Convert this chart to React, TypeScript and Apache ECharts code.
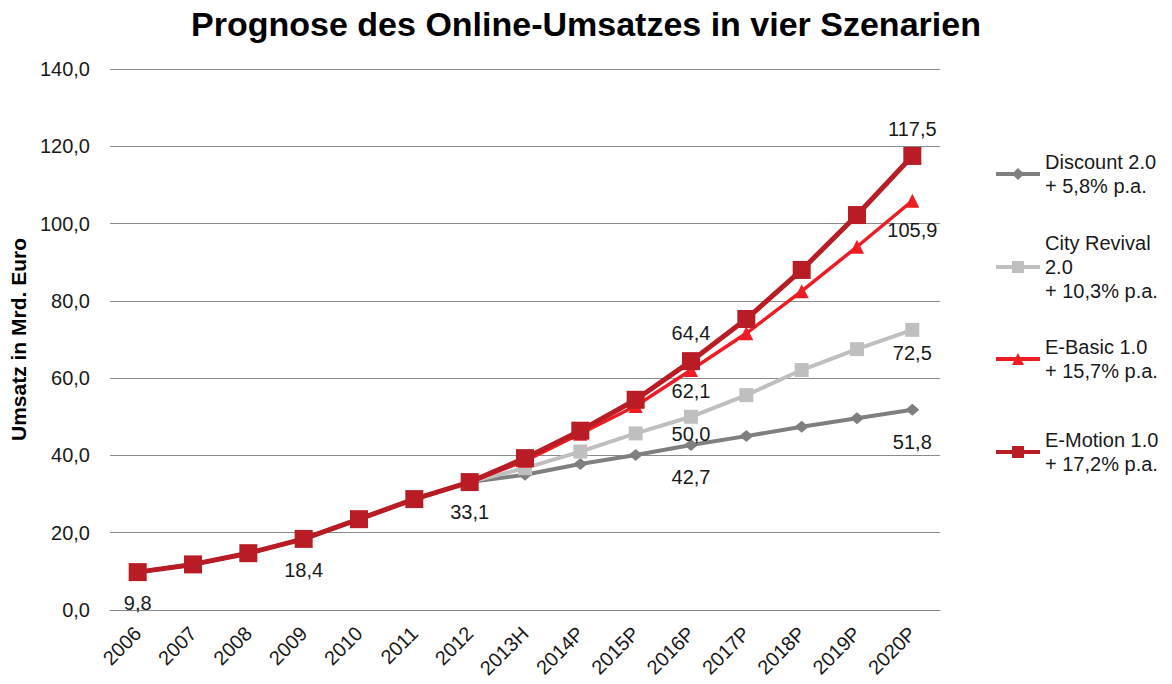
import React, { useEffect, useRef } from "react";
import * as echarts from "echarts";

const categories = ["2006", "2007", "2008", "2009", "2010", "2011", "2012", "2013H", "2014P", "2015P", "2016P", "2017P", "2018P", "2019P", "2020P"];
const yTicks = [0, 20, 40, 60, 80, 100, 120, 140];

const discount = [9.8, 11.8, 14.7, 18.4, 23.5, 28.7, 33.1, 35.0, 37.8, 40.1, 42.7, 45.0, 47.4, 49.6, 51.8];
const cityRevival = [9.8, 11.8, 14.7, 18.4, 23.5, 28.7, 33.1, 36.7, 41.0, 45.7, 50.0, 55.6, 62.1, 67.5, 72.5];
const eBasic = [9.8, 11.8, 14.7, 18.4, 23.5, 28.7, 33.1, 38.6, 45.6, 52.8, 62.1, 71.6, 82.5, 94.0, 105.9];
const eMotion = [9.8, 11.8, 14.7, 18.4, 23.5, 28.7, 33.1, 39.3, 46.4, 54.4, 64.4, 75.3, 88.0, 102.2, 117.5];

// data labels: category index -> vertical offset of label centre from the point
const discountLabels: Record<number, number> = { 10: 32, 14: 32 };
const cityLabels: Record<number, number> = { 10: 17, 14: 23 };
const eBasicLabels: Record<number, number> = { 10: 21, 14: 29 };
const eMotionLabels: Record<number, number> = { 0: 31, 3: 31, 6: 30, 10: -28, 14: -27 };

const names = [
  "Discount 2.0\n+ 5,8% p.a.",
  "City Revival\n2.0\n+ 10,3% p.a.",
  "E-Basic 1.0\n+ 15,7% p.a.",
  "E-Motion 1.0\n+ 17,2% p.a.",
];
const colors = ["#7f7f7f", "#bfbfbf", "#f01c24", "#b91c24"];
const legendCenters = [174, 267, 359, 452];

const fmt = (v: number) => v.toFixed(1).replace(".", ",");
const font = "Liberation Sans, Arial, sans-serif";

function buildData(values: number[], labels: Record<number, number>) {
  return values.map((v, i) =>
    labels[i] !== undefined
      ? {
          value: v,
          label: {
            show: true,
            position: "inside",
            offset: [0, labels[i]],
            formatter: () => fmt(v),
            color: "#1a1a1a",
            fontSize: 20,
            fontFamily: font,
          },
        }
      : v
  );
}

export default function App() {
  const ref = useRef<HTMLDivElement>(null);
  useEffect(() => {
    document.body.style.margin = "0";
    if (!ref.current) return;
    const chart = echarts.init(ref.current, undefined, { renderer: "svg" });
    const LH = 24;
    const legends = names.map((n, i) => {
      const lines = n.split("\n").length;
      const H = (2 * lines - 1) * LH;
      return {
        data: [n],
        orient: "vertical" as const,
        left: 994,
        top: legendCenters[i] - H / 2,
        padding: 0,
        itemWidth: 44,
        itemHeight: 15,
        itemGap: 0,
        selectedMode: false,
        lineStyle: { width: 4 },
        textStyle: {
          fontSize: 20,
          lineHeight: LH,
          color: "#1a1a1a",
          fontFamily: font,
          padding: [(lines - 1) * LH, 0, 0, 0],
        },
      };
    });
    const symbols = ["diamond", "rect", "triangle", "rect"];
    const symbolSizes: (number | number[])[] = [[14, 12], 14, 14, 18];
    const widths = [4, 4, 3.5, 5];
    const datas = [
      buildData(discount, discountLabels),
      buildData(cityRevival, cityLabels),
      buildData(eBasic, eBasicLabels),
      buildData(eMotion, eMotionLabels),
    ];
    chart.setOption({
      animation: false,
      title: {
        text: "Prognose des Online-Umsatzes in vier Szenarien",
        left: "center",
        top: 2,
        textStyle: { fontSize: 34, fontWeight: "bold", color: "#000", fontFamily: font },
      },
      legend: legends,
      grid: { left: 110, right: 232, top: 69, bottom: 74, containLabel: false },
      xAxis: {
        type: "category",
        data: categories,
        boundaryGap: true,
        axisTick: { show: false },
        axisLine: { lineStyle: { color: "#888", width: 1 } },
        axisLabel: { rotate: 45, fontSize: 20, color: "#1a1a1a", fontFamily: font, margin: 20, interval: 0 },
      },
      yAxis: {
        type: "value",
        min: yTicks[0],
        max: yTicks[yTicks.length - 1],
        interval: 20,
        name: "Umsatz in Mrd. Euro",
        nameLocation: "middle",
        nameGap: 80,
        nameTextStyle: { fontSize: 21, fontWeight: "bold", color: "#000", fontFamily: font },
        axisLine: { show: false },
        axisTick: { show: false },
        splitLine: { lineStyle: { color: "#8c8c8c", width: 1 } },
        axisLabel: { formatter: (v: number) => fmt(v), fontSize: 20, color: "#1a1a1a", fontFamily: font, margin: 20 },
      },
      series: names.map((n, i) => ({
        name: n,
        type: "line",
        data: datas[i],
        symbol: symbols[i],
        symbolSize: symbolSizes[i],
        showAllSymbol: true,
        lineStyle: { color: colors[i], width: widths[i] },
        itemStyle: { color: colors[i] },
        z: 2 + i,
      })),
    });
    return () => chart.dispose();
  }, []);
  return <div ref={ref} style={{ width: 1172, height: 684 }} />;
}
